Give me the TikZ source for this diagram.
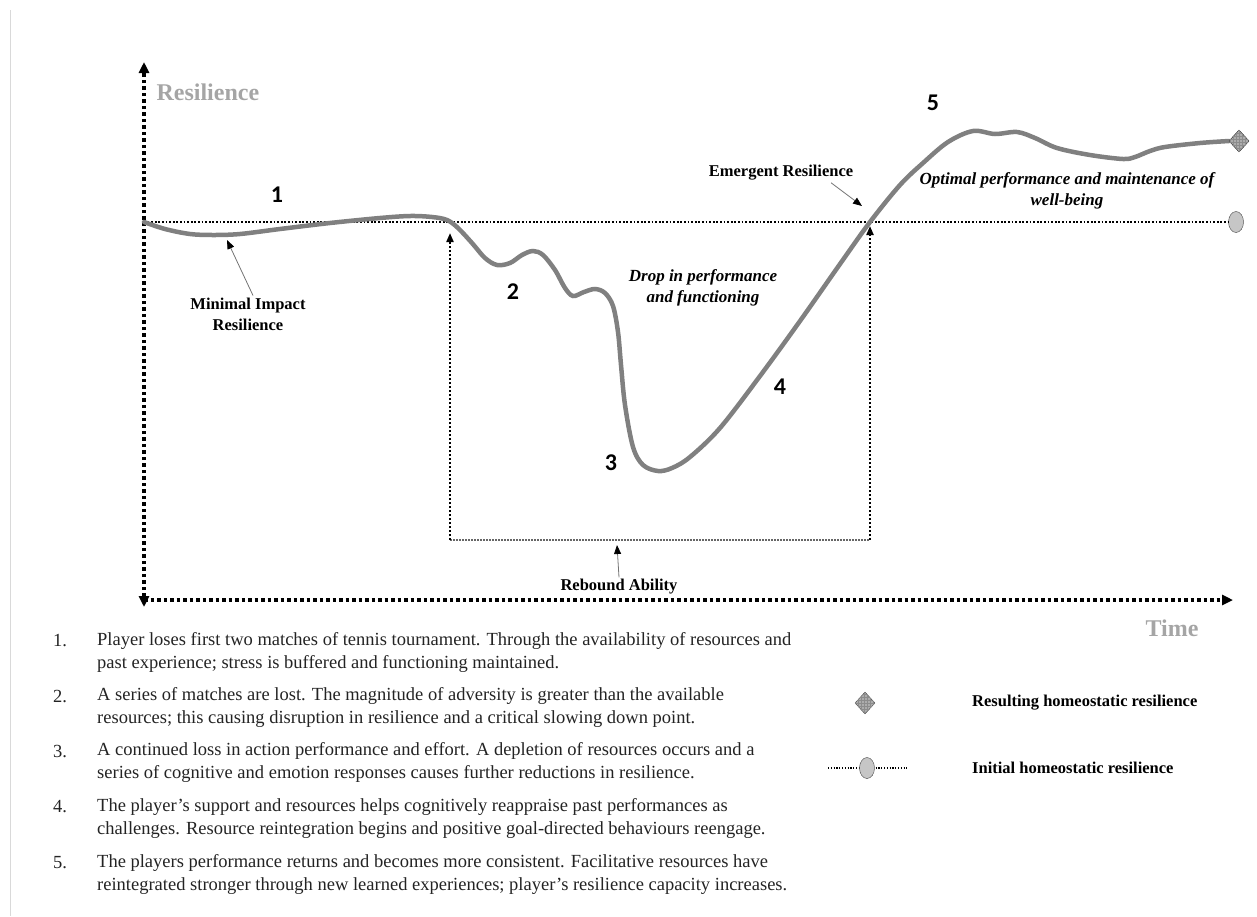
\documentclass[tikz,border=0pt]{standalone}
\usepackage{fontspec}
\setmainfont{Liberation Serif}
\newfontfamily\numfont{Carlito}
\usetikzlibrary{arrows.meta,shapes.geometric,patterns,positioning}

\definecolor{curvegray}{RGB}{128,128,128}
\definecolor{labelgray}{RGB}{165,165,165}
\definecolor{textgray}{RGB}{35,35,35}

\begin{document}
\begin{tikzpicture}[x=1pt,y=-1pt]
    \tikzstyle{axisline}=[line width=3.5pt, dash pattern=on 3.5pt off 3pt, -{Triangle[length=11pt,width=10pt]}]
    \tikzstyle{levelline}=[line width=1.8pt, dash pattern=on 1.8pt off 1.8pt]
    \tikzstyle{rebound}=[line width=2pt, dash pattern=on 2pt off 2pt, -{Triangle[length=9pt,width=7pt]}]
    \tikzstyle{boxline}=[line width=1.5pt, black!60, dash pattern=on 1.5pt off 1.5pt]
    \tikzstyle{pointer}=[line width=0.8pt, black!55, -{Triangle[length=9pt,width=7pt,black]}]
    \tikzstyle{curve}=[line width=4.5pt, curvegray, line cap=round]
    \tikzstyle{lbl}=[font=\fontsize{16.5}{21}\selectfont\bfseries, align=center, inner sep=2pt]
    \tikzstyle{ilbl}=[font=\fontsize{17}{21}\selectfont\bfseries\itshape, align=center, inner sep=2pt]
    \tikzstyle{num}=[font=\fontsize{24}{24}\selectfont\numfont\bfseries]
    \tikzstyle{axlbl}=[font=\fontsize{24}{24}\selectfont\bfseries, labelgray]
    \tikzstyle{item}=[font=\fontsize{18.5}{23}\selectfont, textgray, align=left, anchor=west, inner sep=0pt]
    \tikzstyle{resmark}=[diamond, draw=black!75, fill=gray!65, postaction={pattern=grid, pattern color=black!45}, minimum width=20pt, minimum height=22pt, inner sep=0pt]
    \tikzstyle{initmark}=[ellipse, draw=black!75, fill=gray!45, minimum width=15pt, minimum height=21pt, inner sep=0pt]

    \useasboundingbox (0,0) rectangle (1257,916);
    \draw[black!15, line width=1pt] (10,10) -- (10,916);

    % axes
    \coordinate (ybot) at (144,607);
    \coordinate (ytop) at (144,62);
    \coordinate (xstart) at (144,600);
    \coordinate (xend) at (1233,600);
    \draw[axisline, {Triangle[length=11pt,width=10pt]}-{Triangle[length=11pt,width=10pt]}] (ybot) -- (ytop);
    \draw[axisline] (xstart) -- (xend);
    \node[axlbl, anchor=west] (resil) at (153,92) {Resilience};
    \node[axlbl] (time) at (1172,628) {Time};

    % initial level and markers
    \coordinate (level0) at (144,222);
    \node[initmark] (init) at (1236,222) {};
    \draw[levelline] (level0) -- (init);
    \node[resmark] (result) at (1239,141) {};

    % rebound box
    \coordinate (boxL) at (450,540);
    \coordinate (boxR) at (870,540);
    \coordinate (dropstart) at (450,233);
    \coordinate (emerge) at (870,226);
    \draw[boxline] (boxL) -- (boxR);
    \draw[rebound] (boxL) -- (dropstart);
    \draw[rebound] (boxR) -- (emerge);

    % resilience curve
    \draw[curve] plot[smooth, tension=0.55] coordinates {
      (144,222) (165,229) (190,234) (213,235) (240,234) (280,229) (330,223)
      (380,218) (410,216) (432,217) (447,220) (458,228) (472,243) (485,258)
      (497,265) (510,263) (522,255) (533,251) (543,255) (555,270) (565,288)
      (573,296) (584,292) (595,289) (605,293) (613,306) (618,332) (621,365)
      (625,405) (633,447) (643,465) (658,471) (672,468) (690,457) (720,428)
      (760,376) (800,321) (840,264) (870,222) (900,185) (923,163) (948,142)
      (973,131) (995,134) (1017,132) (1035,138) (1057,148) (1090,155)
      (1123,159) (1135,157) (1150,151) (1165,147) (1200,143) (1229,141)};
    \node[resmark] at (result) {};

    % phase numbers
    \node[num] (n1) at (277,195) {1};
    \node[num] (n2) at (513,292) {2};
    \node[num] (n3) at (611,463) {3};
    \node[num] (n4) at (780,387) {4};
    \node[num] (n5) at (933,103) {5};

    % labels
    \node[lbl] (minimal) at (248,314) {Minimal Impact\\Resilience};
    \node[lbl] (emergent) at (781,173) {Emergent Resilience};
    \node[lbl] (reboundlbl) at (619,587) {Rebound Ability};
    \node[ilbl] (drop) at (703,288) {Drop in performance\\and functioning};
    \node[ilbl] (optimal) at (1067,191) {Optimal performance and maintenance of\\well-being};
    \coordinate (dip) at (227,240);
    \coordinate (rebtip) at (617,545);
    \coordinate (emtip) at (862,206);
    \path
      ([xshift=5pt]minimal.north) edge [pointer] (dip)
      ([xshift=50pt]emergent.south) edge [pointer] (emtip)
      (reboundlbl.north) edge [pointer] (rebtip);

    % legend
    \node[resmark] (legres) at (865,703) {};
    \node[lbl, anchor=west] (legrestxt) at (970,703) {Resulting homeostatic resilience};
    \coordinate (legl) at (828,768);
    \coordinate (legr) at (907,768);
    \draw[line width=1.2pt, dash pattern=on 1.2pt off 1.6pt] (legl) -- (legr);
    \node[initmark] (leginit) at (867,768) {};
    \node[lbl, anchor=west] (leginittxt) at (970,768) {Initial homeostatic resilience};

    % numbered notes
    \node[item] (i1) at (53,641) {1.};
    \node[item] (t1) at (97,652.5) {Player loses first two matches of tennis tournament. Through the availability of resources and\\past experience; stress is buffered and functioning maintained.};
    \node[item] (i2) at (53,696) {2.};
    \node[item] (t2) at (97,707.5) {A series of matches are lost. The magnitude of adversity is greater than the available\\resources; this causing disruption in resilience and a critical slowing down point.};
    \node[item] (i3) at (53,751) {3.};
    \node[item] (t3) at (97,762.5) {A continued loss in action performance and effort. A depletion of resources occurs and a\\series of cognitive and emotion responses causes further reductions in resilience.};
    \node[item] (i4) at (53,807) {4.};
    \node[item] (t4) at (97,818.5) {The player’s support and resources helps cognitively reappraise past performances as\\challenges. Resource reintegration begins and positive goal-directed behaviours reengage.};
    \node[item] (i5) at (53,863) {5.};
    \node[item] (t5) at (97,874.5) {The players performance returns and becomes more consistent. Facilitative resources have\\reintegrated stronger through new learned experiences; player’s resilience capacity increases.};
\end{tikzpicture}
\end{document}
